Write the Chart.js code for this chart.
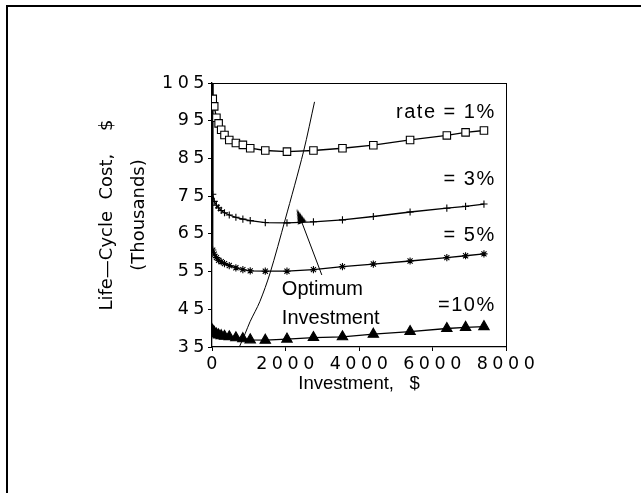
<!DOCTYPE html>
<html>
<head>
<meta charset="utf-8">
<script src="https://cdn.jsdelivr.net/npm/chart.js@4.4.0/dist/chart.umd.min.js"></script>
<style>
  html, body { margin: 0; padding: 0; background: #fff; }
  #wrap { position: relative; width: 641px; height: 493px; overflow: hidden; }
  #frame { position: absolute; left: 6px; top: 5px; right: -4px; bottom: -4px;
           border-left: 2px solid #000; border-top: 2px solid #000; pointer-events: none; }
</style>
</head>
<body>
<div id="wrap">
  <canvas id="lcc" width="641" height="493"></canvas>
  <div id="frame"></div>
</div>
<script>
// investment levels ($), shared by the four curves
const investment = [0, 20, 60, 120, 180, 250, 340, 470, 650, 840, 1040, 1450, 2040, 2760, 3550, 4390, 5390, 6390, 6900, 7400];
// life-cycle cost in thousands of $ (first value of the upper three runs off the top)
const rate1  = [125, 100.8, 98.8, 95.8, 94.3, 92.6, 91.2, 89.9, 89.1, 88.6, 87.7, 87.1, 86.8, 87.1, 87.7, 88.5, 89.9, 91.1, 91.9, 92.4];
const rate3  = [125, 75.5, 73.6, 72.6, 71.9, 71.2, 70.6, 70.0, 69.4, 68.9, 68.5, 68.0, 67.9, 68.2, 68.7, 69.6, 70.8, 71.8, 72.3, 72.9];
const rate5  = [125, 60.7, 59.6, 58.7, 58.0, 57.6, 57.1, 56.6, 56.0, 55.5, 55.2, 55.1, 55.1, 55.5, 56.3, 57.0, 57.8, 58.7, 59.2, 59.7];
const rate10 = [39.6, 39.3, 38.9, 38.45, 38.2, 38.0, 37.85, 37.7, 37.45, 37.2, 36.9, 36.8, 37.1, 37.5, 37.7, 38.4, 39.1, 39.9, 40.2, 40.4];

// locus of the optimum investment
const optX = [744, 900, 1035, 1300, 1580, 1989, 2490, 2790];
const optY = [35, 38.5, 41.7, 47, 54.6, 68.7, 86.8, 100];

// arrow from the "Optimum Investment" note
const arrowX = [2988, 2385];
const arrowY = [54.1, 69.6];

// notes inside the plot
const noteText = ['rate = 1%', '= 3%', '= 5%', '=10%', 'Optimum', 'Investment'];
const noteX = [7720, 7720, 7720, 7720, 1900, 1900];
const noteY = [97.2, 79.3, 64.7, 46.1, 50.3, 42.6];

const xTicks = [0, 2000, 4000, 6000, 8000];
const yTicks = [35, 45, 55, 65, 75, 85, 95, 105];

function pts(xs, ys) {
  return xs.map((x, i) => ({ x: x, y: ys[i] }));
}

function curve(label, ys, style, radius, fill) {
  return {
    label: label,
    data: pts(investment, ys),
    borderColor: '#000',
    borderWidth: 1.3,
    pointStyle: style,
    pointBorderColor: '#000',
    pointBackgroundColor: fill,
    pointBorderWidth: 1.1,
    pointRadius: c => (c.raw && c.raw.y > 105 ? 0 : radius),
    tension: 0
  };
}

// slim filled arrowhead, pointing up before rotation
const head = document.createElement('canvas');
head.width = 10;
head.height = 16;
(function () {
  const h = head.getContext('2d');
  h.fillStyle = '#000';
  h.beginPath();
  h.moveTo(5, 0);
  h.lineTo(9.5, 15);
  h.lineTo(0.5, 15);
  h.closePath();
  h.fill();
})();

const notes = {
  id: 'notes',
  beforeDraw(chart) { chart.ctx.letterSpacing = '0px'; },
  afterDatasetsDraw(chart) { chart.ctx.letterSpacing = '4.5px'; },   // wide digits on the tick labels
  afterDraw(chart) {
    const c = chart.ctx, sx = chart.scales.x, sy = chart.scales.y;
    c.save();
    c.fillStyle = '#000';
    c.textBaseline = 'middle';
    c.font = '20px "Liberation Sans"';
    noteText.forEach((t, i) => {
      const rate = i < 4;
      c.letterSpacing = rate ? '1.5px' : '0px';
      c.textAlign = rate ? 'right' : 'left';
      c.fillText(t, sx.getPixelForValue(noteX[i]), sy.getPixelForValue(noteY[i]));
    });
    c.restore();
    c.letterSpacing = '0px';
  }
};

const tickFont = { family: 'DejaVu Sans', size: 17.5 };

new Chart(document.getElementById('lcc'), {
  type: 'line',
  data: {
    datasets: [
      curve('rate = 1%', rate1, 'rect', 5.3, '#fff'),
      curve('rate = 3%', rate3, 'cross', 3.6, '#000'),
      curve('rate = 5%', rate5, 'star', 3.6, '#000'),
      curve('rate = 10%', rate10, 'triangle', 6, '#000'),
      {
        label: 'Optimum Investment',
        data: pts(optX, optY),
        borderColor: '#000',
        borderWidth: 1,
        pointRadius: 0,
        tension: 0.3
      },
      {
        label: 'arrow',
        data: pts(arrowX, arrowY),
        borderColor: '#000',
        borderWidth: 1,
        pointStyle: [false, head],
        pointRotation: -21,
        pointRadius: [0, 8],
        tension: 0
      }
    ]
  },
  options: {
    responsive: false,
    devicePixelRatio: 1,
    animation: false,
    events: [],
    layout: { padding: { left: 0, top: 83, right: 135, bottom: 0 } },
    plugins: { legend: { display: false }, tooltip: { enabled: false } },
    scales: {
      x: {
        type: 'linear',
        min: 0,
        max: 8000,
        afterBuildTicks: s => { s.ticks = xTicks.map(v => ({ value: v })); },
        ticks: { font: tickFont, color: '#000', padding: 3, labelOffset: 2, maxRotation: 0, z: 1,
                 callback: v => String(v) },
        grid: { drawOnChartArea: false, drawTicks: true, tickLength: 4, color: '#000', lineWidth: 1 },
        border: { color: '#000', width: 1.3 },
        title: {
          display: true,
          text: 'Investment,   $',
          color: '#000',
          font: { family: 'Liberation Sans', size: 18.5 },
          padding: { top: 0, bottom: 98 }
        },
        afterFit: s => { s.height = 146; }
      },
      y: {
        type: 'linear',
        min: 35,
        max: 105,
        afterBuildTicks: s => { s.ticks = yTicks.map(v => ({ value: v })); },
        ticks: { font: tickFont, color: '#000', padding: -1, z: 1, callback: v => String(v) },
        grid: { drawOnChartArea: false, drawTicks: true, tickLength: 4, color: '#000', lineWidth: 1 },
        border: { color: '#000', width: 1.3 },
        title: {
          display: true,
          text: ['Life\u2014Cycle  Cost,    $', '(Thousands)'],
          color: '#000',
          font: { family: 'DejaVu Sans', size: 18, lineHeight: 1.8 },
          padding: { top: 91, bottom: 0 }
        },
        afterFit: s => { s.width = 212; }
      },
      xTop: {
        type: 'linear',
        position: 'top',
        min: 0,
        max: 8000,
        ticks: { display: false },
        grid: { drawOnChartArea: false, drawTicks: false },
        border: { color: '#000', width: 1 },
        afterFit: s => { s.height = 0; }
      },
      yRight: {
        type: 'linear',
        position: 'right',
        min: 35,
        max: 105,
        ticks: { display: false },
        grid: { drawOnChartArea: false, drawTicks: false },
        border: { color: '#000', width: 1 },
        afterFit: s => { s.width = 0; }
      }
    }
  },
  plugins: [notes]
});
</script>
</body>
</html>
